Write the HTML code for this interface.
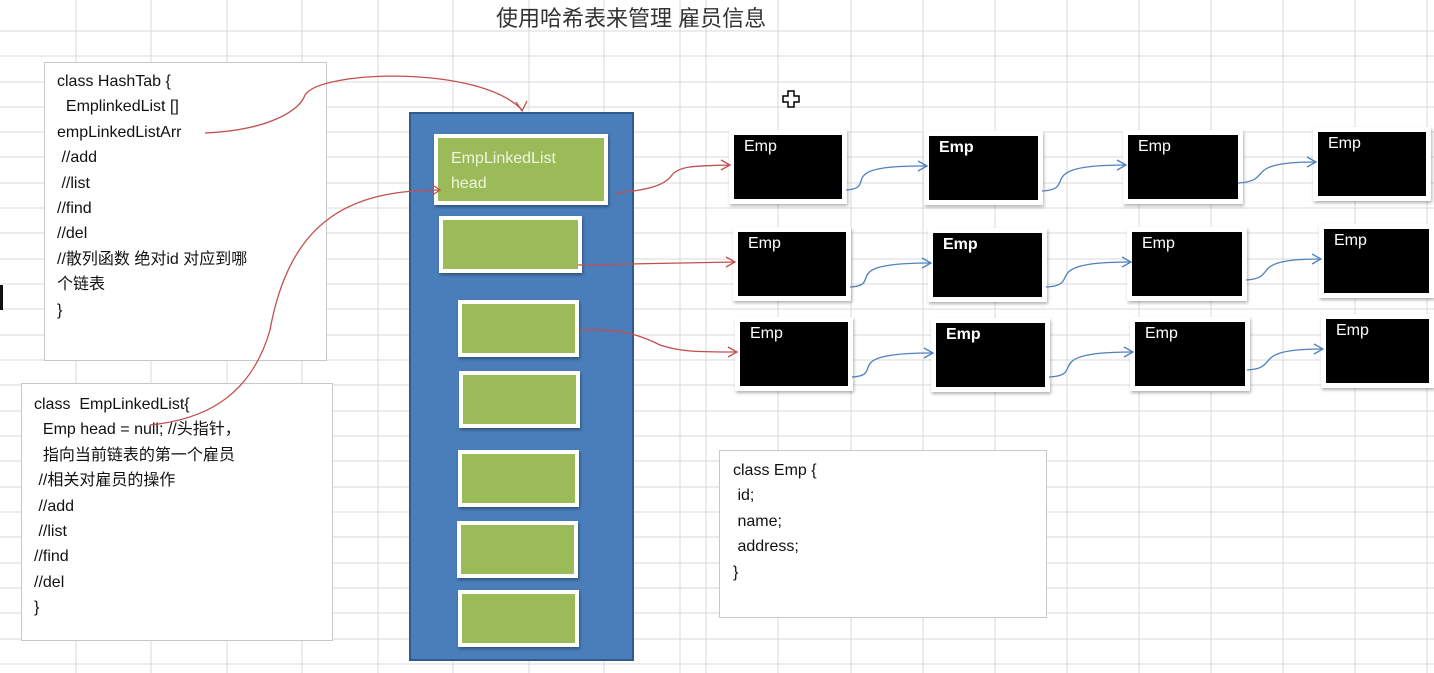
<!DOCTYPE html>
<html><head><meta charset="utf-8"><style>
body{margin:0;width:1434px;height:673px;overflow:hidden;background:#fff;position:relative;font-family:"Liberation Sans","Noto Sans CJK SC",sans-serif}
.a{position:absolute}
.box{position:absolute;background:#fff;border:1px solid #c8c8c8;box-sizing:border-box;font-size:16px;color:#111;line-height:25.4px}
.g{position:absolute;background:#9bbb59;border:4px solid #fff;box-sizing:border-box;box-shadow:1px 2px 3px rgba(0,0,0,.35)}
.e{position:absolute;background:#000;border:5px solid #fff;box-sizing:border-box;box-shadow:1px 2px 3px rgba(0,0,0,.3);color:#fff;font-size:16px;padding:3px 0 0 10px;height:74px}
</style></head><body>
<svg class="a" style="left:0;top:0" width="1434" height="673">
<g stroke="#d9d9d9" stroke-width="1">
<line x1="76" y1="0" x2="76" y2="673"/><line x1="151" y1="0" x2="151" y2="673"/><line x1="227" y1="0" x2="227" y2="673"/><line x1="302" y1="0" x2="302" y2="673"/><line x1="378" y1="0" x2="378" y2="673"/><line x1="453" y1="0" x2="453" y2="673"/><line x1="529" y1="0" x2="529" y2="673"/><line x1="604" y1="0" x2="604" y2="673"/><line x1="680" y1="0" x2="680" y2="673"/><line x1="706" y1="0" x2="706" y2="673"/><line x1="778" y1="0" x2="778" y2="673"/><line x1="851" y1="0" x2="851" y2="673"/><line x1="923" y1="0" x2="923" y2="673"/><line x1="995" y1="0" x2="995" y2="673"/><line x1="1067" y1="0" x2="1067" y2="673"/><line x1="1139" y1="0" x2="1139" y2="673"/><line x1="1211" y1="0" x2="1211" y2="673"/><line x1="1283" y1="0" x2="1283" y2="673"/><line x1="1355" y1="0" x2="1355" y2="673"/><line x1="1427" y1="0" x2="1427" y2="673"/>
<line x1="0" y1="31" x2="1434" y2="31"/><line x1="0" y1="56" x2="1434" y2="56"/><line x1="0" y1="82" x2="1434" y2="82"/><line x1="0" y1="107" x2="1434" y2="107"/><line x1="0" y1="132" x2="1434" y2="132"/><line x1="0" y1="157" x2="1434" y2="157"/><line x1="0" y1="183" x2="1434" y2="183"/><line x1="0" y1="208" x2="1434" y2="208"/><line x1="0" y1="233" x2="1434" y2="233"/><line x1="0" y1="259" x2="1434" y2="259"/><line x1="0" y1="284" x2="1434" y2="284"/><line x1="0" y1="309" x2="1434" y2="309"/><line x1="0" y1="335" x2="1434" y2="335"/><line x1="0" y1="360" x2="1434" y2="360"/><line x1="0" y1="385" x2="1434" y2="385"/><line x1="0" y1="411" x2="1434" y2="411"/><line x1="0" y1="436" x2="1434" y2="436"/><line x1="0" y1="461" x2="1434" y2="461"/><line x1="0" y1="487" x2="1434" y2="487"/><line x1="0" y1="512" x2="1434" y2="512"/><line x1="0" y1="537" x2="1434" y2="537"/><line x1="0" y1="563" x2="1434" y2="563"/><line x1="0" y1="588" x2="1434" y2="588"/><line x1="0" y1="613" x2="1434" y2="613"/><line x1="0" y1="639" x2="1434" y2="639"/><line x1="0" y1="664" x2="1434" y2="664"/>
</g>
<rect x="0" y="285" width="3" height="25" fill="#111"/>
</svg>
<div class="a" style="left:496px;top:1px;font-size:22px;color:#333">使用哈希表来管理 雇员信息</div>
<div class="box" style="left:44px;top:62px;width:283px;height:299px;padding:6px 0 0 12px">class HashTab&nbsp;{<br>&nbsp; EmplinkedList []<br>empLinkedListArr<br>&nbsp;//add<br>&nbsp;//list<br>//find<br>//del<br>//散列函数 绝对id 对应到哪<br>个链表<br>}</div>
<div class="box" style="left:21px;top:383px;width:312px;height:258px;padding:8px 0 0 12px">class&nbsp; EmpLinkedList{<br>&nbsp; Emp head = null; //头指针，<br>&nbsp; 指向当前链表的第一个雇员<br>&nbsp;//相关对雇员的操作<br>&nbsp;//add<br>&nbsp;//list<br>//find<br>//del<br>}</div>
<div class="box" style="left:719px;top:450px;width:328px;height:168px;padding:7px 0 0 13px">class Emp {<br>&nbsp;id;<br>&nbsp;name;<br>&nbsp;address;<br>}</div>
<div class="a" style="left:409px;top:112px;width:225px;height:549px;background:#4a7ebb;border:2px solid #2f5b8e;box-sizing:border-box"></div>
<div class="g" style="left:434px;top:134px;width:174px;height:71px;color:#eef5e0;font-size:16px;line-height:25px;padding:8px 0 0 13px">EmpLinkedList<br>head</div>
<div class="g" style="left:439px;top:216px;width:143px;height:57px"></div>
<div class="g" style="left:458px;top:300px;width:121px;height:57px"></div>
<div class="g" style="left:459px;top:371px;width:121px;height:57px"></div>
<div class="g" style="left:458px;top:450px;width:121px;height:57px"></div>
<div class="g" style="left:457px;top:521px;width:121px;height:57px"></div>
<div class="g" style="left:458px;top:590px;width:121px;height:57px"></div>
<div class="e" style="left:729px;top:130px;width:118px">Emp</div>
<div class="e" style="left:924px;top:131px;width:119px;font-weight:bold">Emp</div>
<div class="e" style="left:1123px;top:130px;width:120px">Emp</div>
<div class="e" style="left:1313px;top:127px;width:118px">Emp</div>
<div class="e" style="left:733px;top:227px;width:118px">Emp</div>
<div class="e" style="left:928px;top:228px;width:119px;font-weight:bold">Emp</div>
<div class="e" style="left:1127px;top:227px;width:120px">Emp</div>
<div class="e" style="left:1319px;top:224px;width:115px">Emp</div>
<div class="e" style="left:735px;top:317px;width:118px">Emp</div>
<div class="e" style="left:931px;top:318px;width:119px;font-weight:bold">Emp</div>
<div class="e" style="left:1130px;top:317px;width:120px">Emp</div>
<div class="e" style="left:1321px;top:314px;width:113px">Emp</div>
<svg class="a" style="left:0;top:0" width="1434" height="673" fill="none">
<g stroke="#c0504d" stroke-width="1.3">
<path d="M205 133 C270 130 300 110 305 95 C320 70 480 65 522 110"/><path d="M516 102 L522 111 L527 101"/>
<path d="M150 425 C200 420 250 400 270 330 C290 220 350 190 440 190"/><path d="M431 184 L440 190 L431 196"/>
<path d="M615 193 C650 190 665 185 672 175 C680 165 700 166 730 165"/><path d="M721 160 L730 165 L721 170"/>
<path d="M578 265 L735 262"/><path d="M726 257 L735 262 L726 267"/>
<path d="M580 330 C620 328 640 335 660 345 C680 352 700 352 737 352"/><path d="M728 347 L737 352 L728 357"/>
</g>
<g stroke="#4f81bd" stroke-width="1.3">
<path d="M846 190 C880 188 830 165 926 166"/><path d="M918 161 L927 166 L918 171"/>
<path d="M1042 191 C1080 189 1030 165 1125 165"/><path d="M1117 160 L1126 165 L1117 170"/>
<path d="M1238 183 C1275 181 1240 162 1315 162"/><path d="M1307 157 L1316 162 L1307 167"/>
<path d="M850 287 C885 285 835 263 930 263"/><path d="M922 258 L931 263 L922 268"/>
<path d="M1046 287 C1085 285 1035 262 1130 262"/><path d="M1122 257 L1131 262 L1122 267"/>
<path d="M1246 280 C1280 278 1245 259 1320 259"/><path d="M1312 254 L1321 259 L1312 264"/>
<path d="M852 377 C887 375 837 353 932 353"/><path d="M924 348 L933 353 L924 358"/>
<path d="M1049 377 C1088 375 1038 352 1132 352"/><path d="M1124 347 L1133 352 L1124 357"/>
<path d="M1247 370 C1282 368 1248 349 1322 349"/><path d="M1314 344 L1323 349 L1314 354"/>
</g>
<path d="M788 91h6v5h5v6h-5v5h-6v-5h-5v-6h5z" fill="#fff" stroke="#000" stroke-width="1.5"/>
</svg>
</body></html>
